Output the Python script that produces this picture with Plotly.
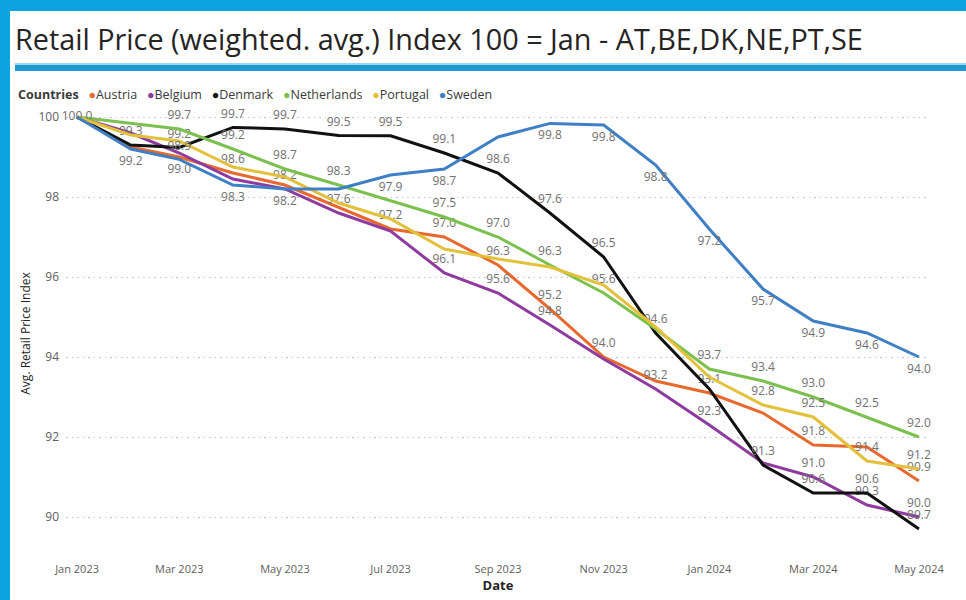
import plotly.graph_objects as go

# monthly dates, Jan 2023 .. May 2024
months = ["2023-01-01", "2023-02-01", "2023-03-01", "2023-04-01", "2023-05-01",
          "2023-06-01", "2023-07-01", "2023-08-01", "2023-09-01", "2023-10-01",
          "2023-11-01", "2023-12-01", "2024-01-01", "2024-02-01", "2024-03-01",
          "2024-04-01", "2024-05-01"]

austria = [100.0, 99.25, 99.0, 98.6, 98.3, 97.75, 97.2, 97.0, 96.3, 95.2,
           94.0, 93.4, 93.1, 92.6, 91.8, 91.75, 90.9]
belgium = [100.0, 99.6, 99.1, 98.45, 98.2, 97.6, 97.15, 96.1, 95.6, 94.8,
           93.95, 93.2, 92.3, 91.35, 91.0, 90.3, 90.0]
denmark = [100.0, 99.3, 99.24, 99.74, 99.7, 99.54, 99.53, 99.1, 98.6, 97.6,
           96.5, 94.6, 93.2, 91.3, 90.6, 90.6, 89.7]
netherlands = [100.0, 99.85, 99.7, 99.2, 98.7, 98.3, 97.9, 97.5, 97.0, 96.3,
               95.6, 94.7, 93.7, 93.4, 93.0, 92.5, 92.0]
portugal = [100.0, 99.55, 99.4, 98.75, 98.5, 97.85, 97.45, 96.7, 96.45, 96.25,
            95.8, 94.75, 93.5, 92.8, 92.5, 91.4, 91.2]
sweden = [100.0, 99.2, 98.94, 98.3, 98.2, 98.2, 98.55, 98.7, 99.5, 99.84,
          99.8, 98.8, 97.2, 95.7, 94.9, 94.6, 94.0]

# which points carry a data label, and where it sits
T, B, M = "top center", "bottom center", "middle center"
label_pos = {
    "Austria": {2: B, 3: T, 6: T, 7: T, 8: T, 9: T, 10: T, 12: T, 14: T, 16: T},
    "Belgium": {4: T, 5: T, 7: T, 8: T, 9: T, 11: T, 12: T, 14: T, 15: T, 16: T},
    "Denmark": {1: T, 2: T, 3: T, 4: T, 5: T, 6: T, 7: T, 8: T, 9: T, 10: T,
                11: T, 13: T, 14: T, 15: T, 16: T},
    "Netherlands": {0: M, 2: T, 3: T, 4: T, 5: T, 6: T, 7: T, 8: T, 9: T, 10: T,
                    12: T, 13: T, 14: T, 15: T, 16: T},
    "Portugal": {13: T, 14: T, 15: T, 16: T},
    "Sweden": {1: B, 2: T, 3: B, 4: B, 7: B, 9: B, 10: B, 11: B, 12: B, 13: B,
               14: B, 15: B, 16: B},
}

series = [
    ("Austria", austria, "#E8692E"),
    ("Belgium", belgium, "#8E3A9E"),
    ("Denmark", denmark, "#111111"),
    ("Netherlands", netherlands, "#7CC04F"),
    ("Portugal", portugal, "#E3C13B"),
    ("Sweden", sweden, "#3F7FC4"),
]

W, H = 966, 600
L, R, TOP, BOT = 66, 930, 110, 557


def px2x(px):
    return (px - L) / (R - L)


def py2y(py):
    return (BOT - py) / (BOT - TOP)


fig = go.Figure()
for name, vals, color in series:
    pos = label_pos[name]
    fig.add_trace(go.Scatter(
        x=months, y=vals, name=name, mode="lines+markers+text",
        line=dict(color=color, width=3),
        marker=dict(size=9, opacity=0, color=color),
        text=[f"{v:.1f}" if i in pos else "" for i, v in enumerate(vals)],
        textposition=[pos.get(i, T) for i in range(len(vals))],
        textfont=dict(family="Open Sans", size=12, color="#727070"),
        cliponaxis=False, hoverinfo="x+y+name",
    ))

gap = "&nbsp;&nbsp;&nbsp;"
legend_txt = "<b>Countries</b>" + gap + gap.join(
    f"<span style='color:{c}'>●</span>{n}" for n, _, c in series)

fig.update_layout(
    width=W, height=H,
    margin=dict(l=L, r=W - R, t=TOP, b=H - BOT),
    paper_bgcolor="#0AA3E0", plot_bgcolor="white",
    showlegend=False,
    font=dict(family="Open Sans", color="#605E5C"),
    shapes=[
        dict(type="rect", xref="paper", yref="paper", layer="below",
             x0=px2x(10), x1=px2x(W + 5), y0=py2y(11), y1=py2y(H + 5),
             fillcolor="white", line_width=0),
        dict(type="rect", xref="paper", yref="paper", layer="below",
             x0=px2x(15), x1=px2x(W + 5), y0=py2y(63), y1=py2y(65),
             fillcolor="#9FD4EE", line_width=0),
        dict(type="rect", xref="paper", yref="paper", layer="below",
             x0=px2x(15), x1=px2x(W + 5), y0=py2y(65), y1=py2y(71),
             fillcolor="#1B9AD6", line_width=0),
    ],
    annotations=[
        dict(text="Retail Price (weighted. avg.) Index 100 = Jan - AT,BE,DK,NE,PT,SE",
             xref="paper", yref="paper", x=px2x(13), y=py2y(38),
             xanchor="left", yanchor="middle", showarrow=False,
             font=dict(family="Open Sans", size=28.8, color="#252423")),
        dict(text=legend_txt, xref="paper", yref="paper", x=px2x(16), y=py2y(95),
             xanchor="left", yanchor="middle", showarrow=False,
             font=dict(family="Open Sans", size=12.5, color="#3A3A3A")),
    ],
)

fig.update_xaxes(
    type="date", range=["2022-12-25 15:00", "2024-05-07 09:00"],
    tickvals=months[::2], tickformat="%b %Y",
    tickfont=dict(size=11, color="#605E5C"),
    showgrid=False, zeroline=False, showline=False, automargin=False,
    ticklabelstandoff=4,
    title=dict(text="<b>Date</b>", font=dict(size=13, color="#252423"), standoff=4),
)
fig.update_yaxes(
    range=[89.0, 100.175], tickvals=[90, 92, 94, 96, 98, 100],
    tickfont=dict(size=12, color="#605E5C"),
    showgrid=True, gridcolor="#C4C4C4", griddash="1.5px,4px", gridwidth=1.2,
    zeroline=False, showline=False, ticklabelstandoff=6, automargin=False,
    title=dict(text="Avg. Retail Price Index", font=dict(size=12, color="#252423"),
               standoff=5),
)

# the page body has a default margin; drop it so the chart fills the window
fig.write_html("out.html", config={"displayModeBar": False},
               post_script="document.body.style.margin = '0';")
